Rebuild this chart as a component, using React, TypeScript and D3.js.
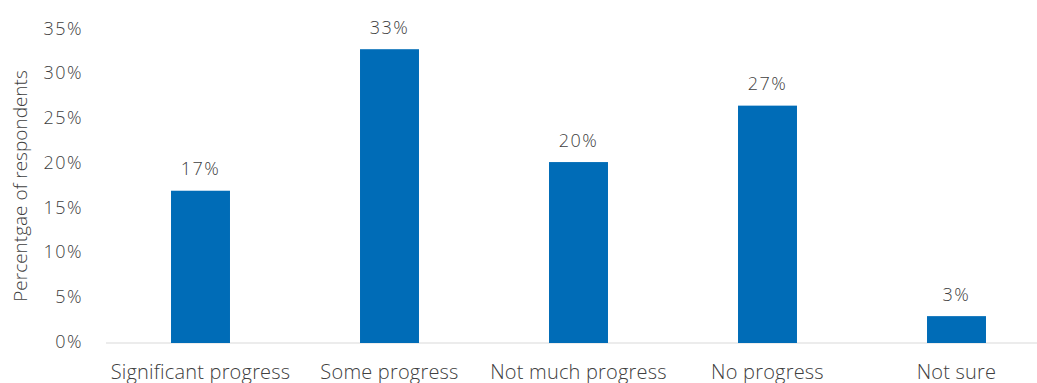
import React from "react";
import * as d3 from "d3";

const categories = ["Significant progress", "Some progress", "Not much progress", "No progress", "Not sure"];
const values = [17.0, 32.8, 20.2, 26.5, 3.0];
const labels = ["17%", "33%", "20%", "27%", "3%"];
const yTicks = [0, 5, 10, 15, 20, 25, 30, 35];

export default function App() {
  const W = 1037, H = 383;
  const left = 106, right = 1051, top = 29.5, bottom = 343;
  const x = d3.scaleBand<string>().domain(categories).range([left, right]).paddingInner(0.688).paddingOuter(0.344);
  const y = d3.scaleLinear().domain([0, 35]).range([bottom, top]);
  const font = "'Open Sans', sans-serif";
  const gray = "#404040";
  return (
    <svg width={W} height={H} style={{ position: "absolute", left: 0, top: 0, background: "#fff" }} fontFamily={font} fontWeight={300}>
      <line x1={left} x2={W} y1={bottom} y2={bottom} stroke="#d9d9d9" strokeWidth={1} />
      {yTicks.map((t) => (
        <text key={t} x={83} y={y(t) + 5} textAnchor="end" fontSize={18} letterSpacing={1.5} fill={gray}>{t}%</text>
      ))}
      <text transform={`translate(27,${186}) rotate(-90)`} textAnchor="middle" fontSize={19} fill={gray}>Percentgae of respondents</text>
      {categories.map((c, i) => (
        <g key={c}>
          <rect x={x(c)} y={y(values[i])} width={x.bandwidth()} height={bottom - y(values[i])} fill="#006cb7" />
          <text x={x(c)! + x.bandwidth() / 2} y={y(values[i]) - 15.5} textAnchor="middle" fontSize={18} letterSpacing={1.5} fill={gray}>{labels[i]}</text>
          <text x={x(c)! + x.bandwidth() / 2} y={379} textAnchor="middle" fontSize={20} letterSpacing={0.2} fill={gray}>{c}</text>
        </g>
      ))}
    </svg>
  );
}
